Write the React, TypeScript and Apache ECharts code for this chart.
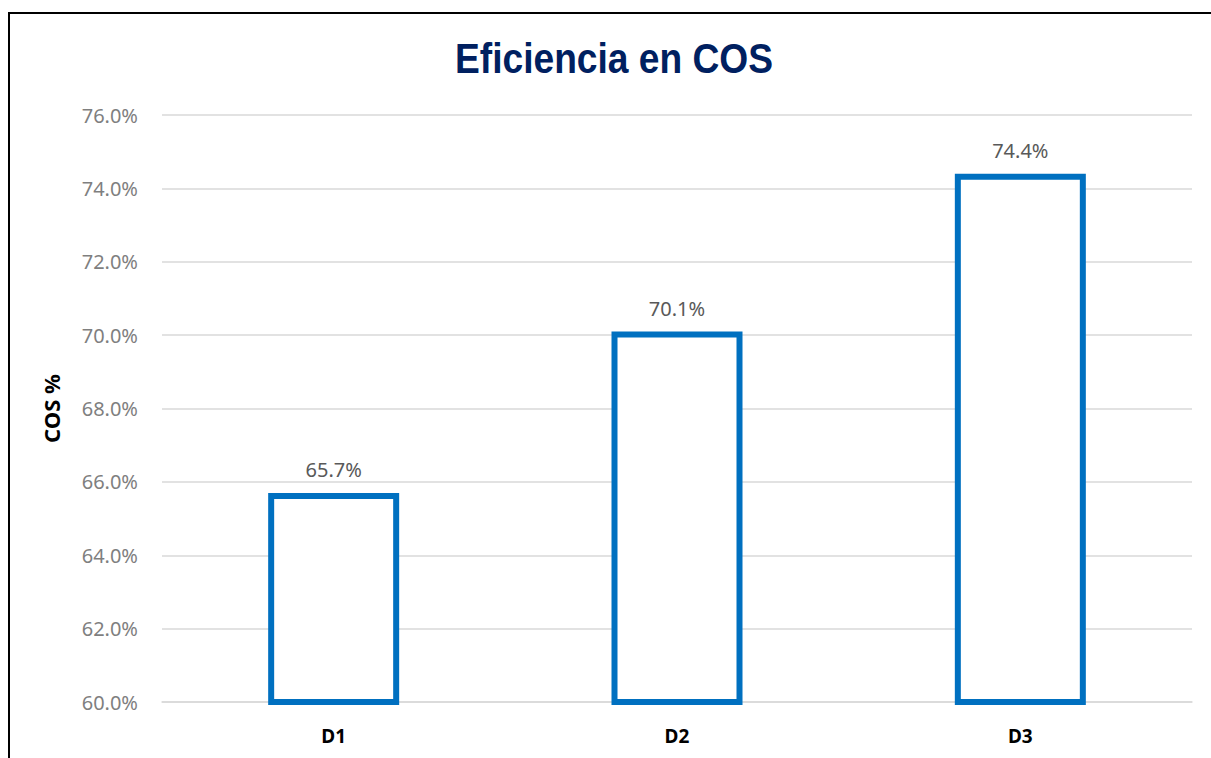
import React, { useEffect, useRef } from "react";
import * as echarts from "echarts";

const categories = ["D1", "D2", "D3"];
const cosValues = [65.7, 70.1, 74.4];
const yTicks = { min: 60, max: 76, interval: 2 };
const titleText = "Eficiencia en COS";
const yAxisName = "COS %";

export default function App() {
  const ref = useRef<HTMLDivElement>(null);
  useEffect(() => {
    if (!ref.current) return;
    const chart = echarts.init(ref.current, undefined, { renderer: "svg" });
    chart.setOption({
      animation: false,
      backgroundColor: "transparent",
      graphic: [
        {
          type: "text",
          x: 614,
          y: 58,
          scaleX: 0.885,
          style: {
            text: titleText,
            align: "center",
            verticalAlign: "middle",
            fontFamily: "'Liberation Sans', Arial, sans-serif",
            fontWeight: "bold",
            fontSize: 42,
            fill: "#002060",
          },
        },
      ],
      grid: { left: 162, right: 19, top: 115, bottom: 56 },
      xAxis: {
        type: "category",
        data: categories,
        axisLine: { show: true, lineStyle: { color: "#d9d9d9", width: 1.5 } },
        axisTick: { show: false },
        axisLabel: {
          margin: 24,
          fontFamily: "'Noto Sans', sans-serif",
          fontWeight: "bold",
          fontSize: 19,
          color: "#000000",
        },
      },
      yAxis: {
        type: "value",
        min: yTicks.min,
        max: yTicks.max,
        interval: yTicks.interval,
        name: yAxisName,
        nameLocation: "middle",
        nameGap: 100,
        nameRotate: 90,
        nameTextStyle: {
          fontFamily: "'Noto Sans', sans-serif",
          fontWeight: "bold",
          fontSize: 22,
          color: "#000000",
        },
        axisLine: { show: false },
        axisTick: { show: false },
        splitLine: { lineStyle: { color: "#d9d9d9", width: 1.5 } },
        axisLabel: {
          margin: 24,
          fontFamily: "'Noto Sans', sans-serif",
          fontSize: 20,
          color: "#7f7f7f",
          formatter: (v: number) => v.toFixed(1) + "%",
        },
      },
      series: [
        {
          type: "bar",
          data: cosValues,
          barWidth: 131,
          itemStyle: { color: "#ffffff", borderColor: "#0070c0", borderWidth: 6 },
          label: {
            show: true,
            position: "top",
            distance: 13,
            fontFamily: "'Noto Sans', sans-serif",
            fontSize: 20,
            color: "#595959",
            formatter: (p: any) => p.value.toFixed(1) + "%",
          },
        },
      ],
    });
    return () => chart.dispose();
  }, []);
  return (
    <div style={{ position: "fixed", left: 0, top: 0, width: 1211, height: 758, overflow: "hidden", background: "#fff" }}>
      <div style={{ position: "absolute", left: 8, top: 12, width: 1300, height: 900, borderLeft: "2px solid #000", borderTop: "2px solid #000" }} />
      <div ref={ref} style={{ position: "absolute", left: 0, top: 0, width: 1211, height: 758 }} />
    </div>
  );
}
